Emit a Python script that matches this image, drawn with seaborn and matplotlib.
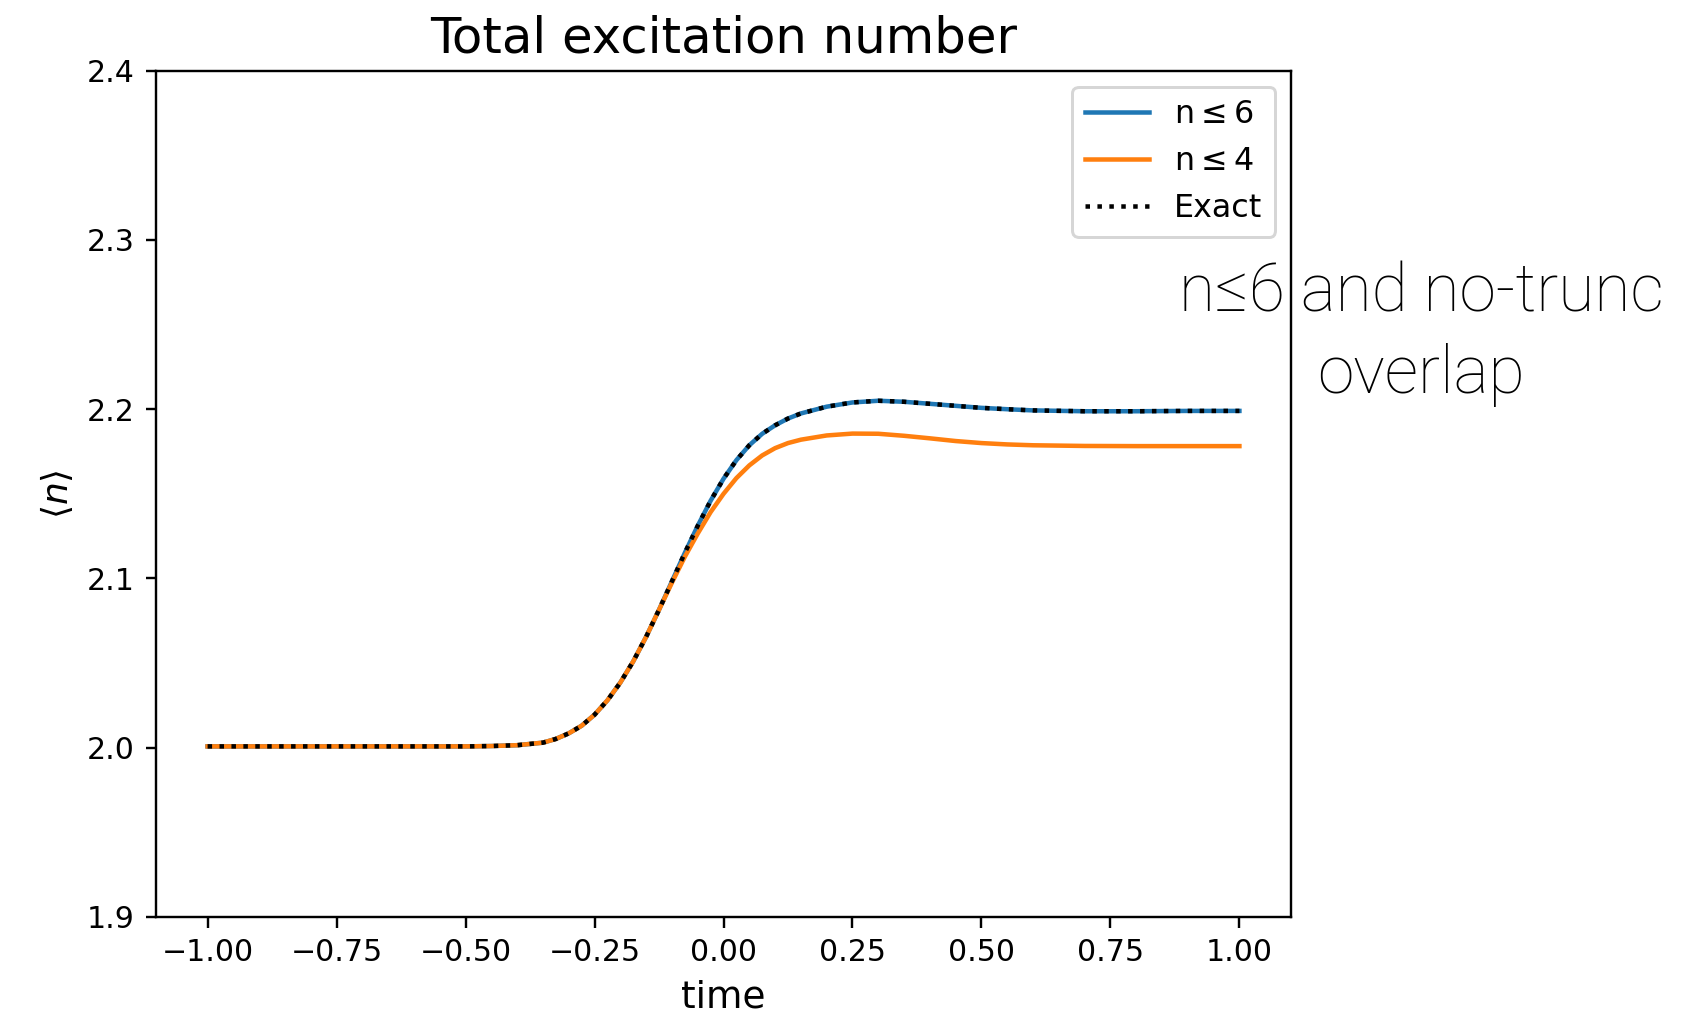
import numpy as np
import pandas as pd
import matplotlib
matplotlib.use("Agg")
import matplotlib.pyplot as plt
import seaborn as sns

# ---- data ----
time = [-1.0, -0.9, -0.8, -0.7, -0.6, -0.5, -0.45, -0.4, -0.35, -0.325, -0.3, -0.275,
        -0.25, -0.225, -0.2, -0.175, -0.15, -0.125, -0.1, -0.075, -0.05, -0.025,
        0.0, 0.025, 0.05, 0.075, 0.1, 0.125, 0.15, 0.2, 0.25, 0.3, 0.35, 0.4,
        0.45, 0.5, 0.55, 0.6, 0.7, 0.8, 0.9, 1.0]

n_le_6 = [2.0008, 2.0008, 2.0008, 2.0008, 2.0008, 2.0008, 2.0010, 2.0015, 2.0030,
          2.0052, 2.0085, 2.0130, 2.0195, 2.0280, 2.0385, 2.0510, 2.0655, 2.0815,
          2.0983, 2.1151, 2.1311, 2.1459, 2.1589, 2.1699, 2.1787, 2.1855, 2.1905,
          2.1945, 2.1975, 2.2015, 2.2040, 2.2050, 2.2044, 2.2032, 2.2020, 2.2008,
          2.2000, 2.1993, 2.1988, 2.1988, 2.1990, 2.1990]

n_le_4 = [2.0008, 2.0008, 2.0008, 2.0008, 2.0008, 2.0008, 2.0010, 2.0015, 2.0030,
          2.0052, 2.0085, 2.0130, 2.0195, 2.0280, 2.0385, 2.0510, 2.0655, 2.0815,
          2.0975, 2.1128, 2.1265, 2.1392, 2.1500, 2.1593, 2.1668, 2.1727, 2.1770,
          2.1800, 2.1820, 2.1845, 2.1856, 2.1855, 2.1843, 2.1828, 2.1812, 2.1800,
          2.1792, 2.1787, 2.1783, 2.1782, 2.1782, 2.1782]

exact = list(n_le_6)

labels = ["n$\\leq$6", "n$\\leq$4", "Exact"]
title = "Total excitation number"
xlabel = "time"
ylabel = r"$\langle n \rangle$"
note = "n≤6 and no-trunc\noverlap"
xticks = [-1.0, -0.75, -0.5, -0.25, 0.0, 0.25, 0.5, 0.75, 1.0]

# ---- figure ----
DPI = 216
fig = plt.figure(figsize=(1692 / DPI, 1018 / DPI), dpi=DPI)
ax = fig.add_axes([156 / 1692, 1 - 917 / 1018, (1291 - 156) / 1692, (917 - 70.7) / 1018])

sns.lineplot(x=time, y=n_le_6, ax=ax, color="#1f77b4", linewidth=1.5, label=labels[0])
sns.lineplot(x=time, y=n_le_4, ax=ax, color="#ff7f0e", linewidth=1.5, label=labels[1])
sns.lineplot(x=time, y=exact, ax=ax, color="black", linewidth=1.5, linestyle=":", label=labels[2])

ax.set_ylim(1.9, 2.4)
ax.set_xlim(-1.1, 1.1)
ax.set_xticks(xticks)
ax.set_xticklabels([f"{v:.2f}".replace("-", "\u2212") for v in xticks])
ax.tick_params(labelsize=10)
ax.set_title(title, fontsize=16.6)
ax.set_xlabel(xlabel, fontsize=12.5)
ax.set_ylabel(ylabel, fontsize=12)
ax.legend(loc="upper right", fontsize=10.6)

fig.text(1421 / 1692, 1 - 334 / 1018, note, ha="center", va="center",
         multialignment="center", fontsize=22, fontweight="light",
         linespacing=1.35, family=["Roboto", "DejaVu Sans"], color="black")

fig.savefig("out.png", dpi=DPI)
